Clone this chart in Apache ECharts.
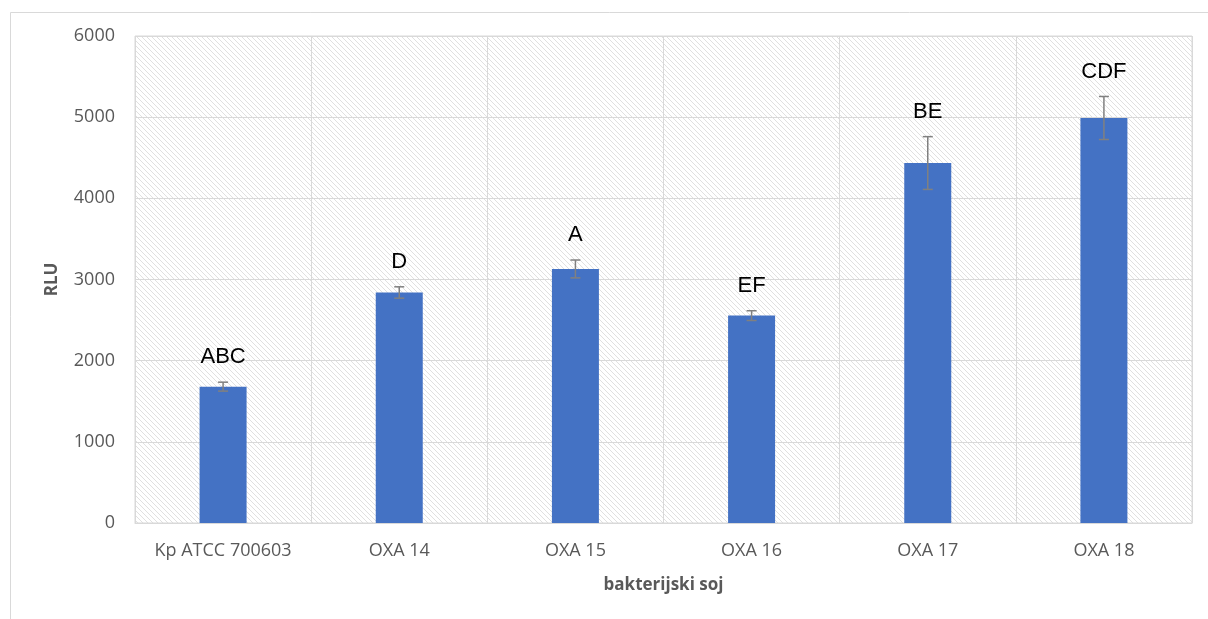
<!DOCTYPE html>
<html>
<head>
<meta charset="utf-8">
<script src="https://cdn.jsdelivr.net/npm/echarts@6/dist/echarts.min.js"></script>
<style>
html,body{margin:0;padding:0;background:#fff;}
#chart{width:1208px;height:619px;}
</style>
</head>
<body>
<div id="chart"></div>
<script>
const categories = ['Kp ATCC 700603', 'OXA 14', 'OXA 15', 'OXA 16', 'OXA 17', 'OXA 18'];
const means = [1680, 2840, 3130, 2555, 4435, 4990];
const errors = [55, 70, 110, 60, 325, 265];
const letters = ['ABC', 'D', 'A', 'EF', 'BE', 'CDF'];
const yTicks = { min: 0, max: 6000, interval: 1000 };

// hatch pattern for the plot background
const tile = document.createElement('canvas');
const s = 5;
tile.width = s; tile.height = s;
const ctx = tile.getContext('2d');
ctx.fillStyle = '#ffffff';
ctx.fillRect(0, 0, s, s);
ctx.strokeStyle = '#e0e0e0';
ctx.lineWidth = 1;
for (let k = -1; k <= 1; k++) {
  ctx.beginPath();
  ctx.moveTo(k * s, 0);
  ctx.lineTo(k * s + s, s);
  ctx.stroke();
}

const errData = categories.map((c, i) => [i, means[i], errors[i], letters[i]]);

const chart = echarts.init(document.getElementById('chart'));
chart.setOption({
  animation: false,
  backgroundColor: '#ffffff',
  graphic: [{
    type: 'rect',
    left: 8, top: 10,
    shape: { x: 0.5, y: 0.5, width: 1400, height: 800 },
    style: { fill: 'none', stroke: '#d9d9d9', lineWidth: 1 },
    silent: true, z: -10
  }],
  grid: {
    left: 135, top: 36, right: 16, bottom: 96,
    show: true,
    backgroundColor: { image: tile, repeat: 'repeat' },
    borderColor: '#d9d9d9', borderWidth: 1
  },
  xAxis: {
    type: 'category',
    data: categories,
    name: 'bakterijski soj',
    nameLocation: 'middle',
    nameGap: 54,
    nameTextStyle: { fontFamily: 'Open Sans', fontWeight: 'bold', fontSize: 17, color: '#595959' },
    axisLine: { show: true, lineStyle: { color: '#d9d9d9' } },
    axisTick: { show: false },
    axisLabel: { interval: 0, fontFamily: 'Open Sans', fontSize: 18, color: '#595959', margin: 19 },
    splitLine: { show: true, interval: 0, lineStyle: { color: '#d9d9d9', width: 1 } }
  },
  yAxis: {
    type: 'value',
    min: yTicks.min, max: yTicks.max, interval: yTicks.interval,
    name: 'RLU',
    nameLocation: 'middle',
    nameGap: 74,
    nameTextStyle: { fontFamily: 'Open Sans', fontWeight: 'bold', fontSize: 17, color: '#595959' },
    axisLine: { show: false },
    axisTick: { show: false },
    axisLabel: { fontFamily: 'Open Sans', fontSize: 18, color: '#595959', margin: 20,
      formatter: function (v) { return String(v); } },
    splitLine: { show: true, lineStyle: { color: '#d9d9d9', width: 1 } }
  },
  series: [{
    type: 'bar',
    data: means,
    barWidth: 47,
    itemStyle: { color: '#4472C4' },
    z: 2
  }, {
    type: 'custom',
    data: errData,
    z: 3,
    renderItem: function (params, api) {
      const i = api.value(0), m = api.value(1), e = api.value(2);
      const top = api.coord([i, m + e]);
      const bot = api.coord([i, m - e]);
      const cap = 5;
      const st = { stroke: '#808080', lineWidth: 1.5 };
      return {
        type: 'group',
        children: [
          { type: 'line', shape: { x1: top[0], y1: top[1], x2: bot[0], y2: bot[1] }, style: st },
          { type: 'line', shape: { x1: top[0] - cap, y1: top[1], x2: top[0] + cap, y2: top[1] }, style: st },
          { type: 'line', shape: { x1: bot[0] - cap, y1: bot[1], x2: bot[0] + cap, y2: bot[1] }, style: st },
          { type: 'text', x: top[0], y: top[1] - 14,
            style: { text: letters[params.dataIndex], fontFamily: 'Liberation Sans', fontSize: 22, fill: '#000000', align: 'center', verticalAlign: 'bottom' } }
        ]
      };
    }
  }]
});
</script>
</body>
</html>
